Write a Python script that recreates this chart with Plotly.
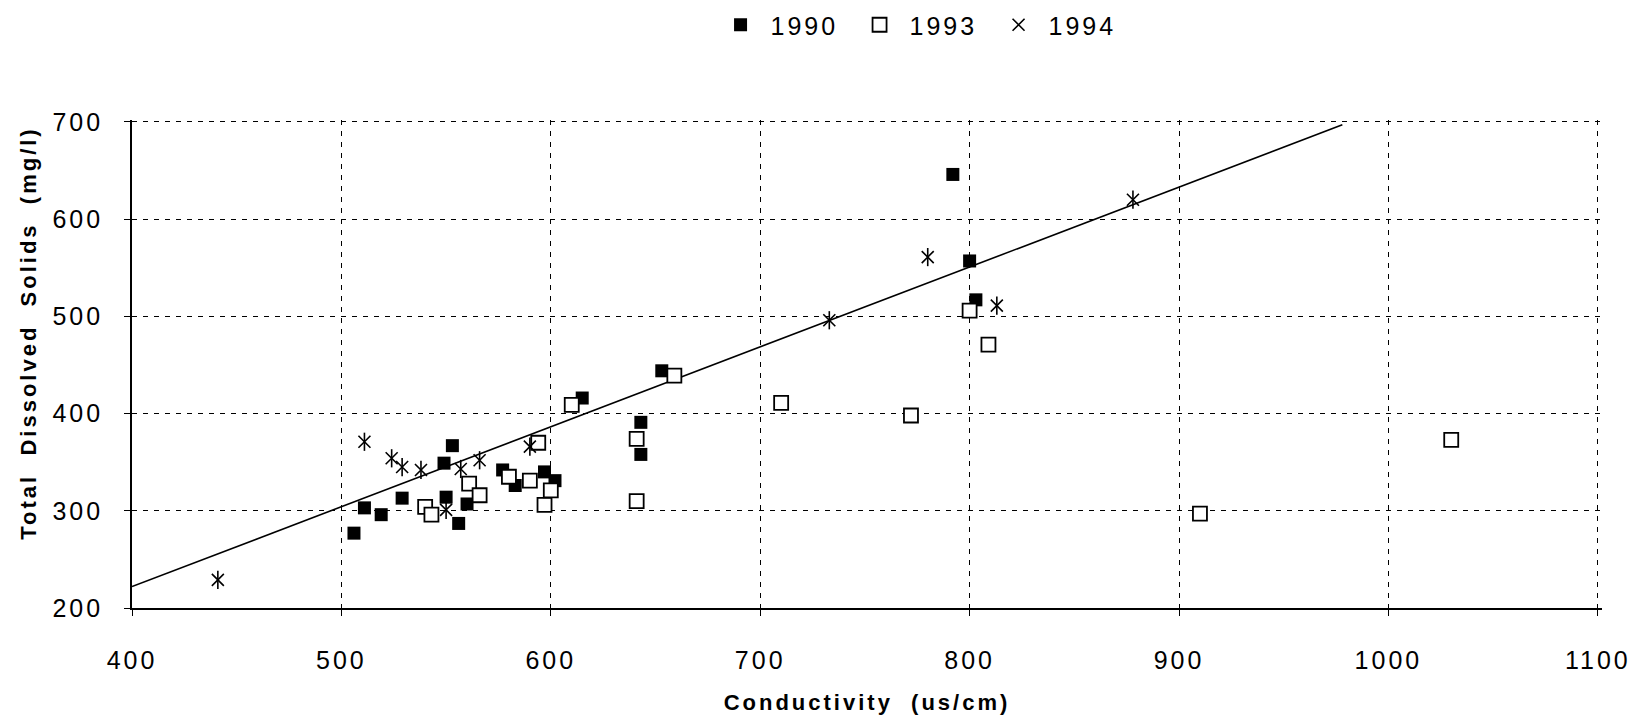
import plotly.graph_objects as go

# ---- data ----
Y1990_X = [506, 511, 519, 529, 549, 550, 553, 556, 560, 577, 583, 597, 602, 615, 643, 643, 653, 792, 800, 803]
Y1990_Y = [277, 303, 296, 313, 349, 314, 367, 287, 307, 342, 326, 340, 331, 416, 391, 358, 444, 646, 557, 517]

Y1993_X = [540, 543, 561, 566, 580, 590, 594, 597, 600, 610, 641, 641, 659, 710, 772, 800, 809, 910, 1030]
Y1993_Y = [304, 296, 328, 316, 335, 331, 370, 306, 321, 409, 374, 310, 439, 411, 398, 506, 471, 297, 373]

Y1994_X = [441, 511, 524, 529, 538, 550, 557, 566, 590, 733, 780, 813, 878]
Y1994_Y = [229, 371, 354, 345, 342, 301, 343, 352, 366, 496, 561, 511, 620]

FIT_SLOPE = 0.822
FIT_INTERCEPT = -106.8
FIT_X_RANGE = [400, 978]

X_TICKS = [400, 500, 600, 700, 800, 900, 1000, 1100]
Y_TICKS = [200, 300, 400, 500, 600, 700]

X_TITLE = "Conductivity  (us/cm)"
Y_TITLE = "Total  Dissolved  Solids  (mg/l)"

FONT = "Liberation Sans, Arial, Helvetica, sans-serif"

fig = go.Figure()

fit_y = [FIT_INTERCEPT + FIT_SLOPE * x for x in FIT_X_RANGE]
fig.add_trace(go.Scatter(x=FIT_X_RANGE, y=fit_y, mode="lines",
                         line=dict(color="black", width=1.6), showlegend=False,
                         hoverinfo="skip"))

fig.add_trace(go.Scatter(x=Y1990_X, y=Y1990_Y, mode="markers", name="1990",
                         marker=dict(symbol="square", size=13, color="black",
                                     line=dict(color="black", width=0))))
fig.add_trace(go.Scatter(x=Y1993_X, y=Y1993_Y, mode="markers", name="1993",
                         marker=dict(symbol="square", size=14, color="white",
                                     line=dict(color="black", width=1.8))))
fig.add_trace(go.Scatter(x=Y1994_X, y=Y1994_Y, mode="markers", name="1994",
                         legendgroup="1994",
                         marker=dict(symbol="x-thin-open", size=12, color="black",
                                     line=dict(color="black", width=1.6))))
fig.add_trace(go.Scatter(x=Y1994_X, y=Y1994_Y, mode="markers", name="1994",
                         legendgroup="1994", showlegend=False,
                         marker=dict(symbol="line-ns-open", size=13, color="black",
                                     line=dict(color="black", width=1.6))))

axis_common = dict(
    showgrid=True, gridcolor="black", gridwidth=1.2, griddash="5px,6px",
    showline=True, linecolor="black", linewidth=1.6,
    ticks="outside", ticklen=6, tickwidth=1.3, tickcolor="black",
    tickfont=dict(family=FONT, size=25, color="black"),
    zeroline=False,
)

fig.update_layout(
    width=1640, height=723,
    margin=dict(l=132, r=38, t=120, b=113),
    paper_bgcolor="white", plot_bgcolor="white",
    font=dict(family=FONT, color="black"),
    xaxis=dict(range=[400, 1102], tickvals=X_TICKS, ticklabelstandoff=23,
               title=dict(text=X_TITLE, font=dict(family=FONT, size=22, weight="bold"),
                          standoff=22),
               **axis_common),
    yaxis=dict(range=[200, 702], tickvals=Y_TICKS, ticklabelstandoff=16,
               **axis_common),
    legend=dict(orientation="h", xref="container", yref="container",
                x=0.5604, xanchor="center", y=1 - 25 / 723, yanchor="middle",
                itemwidth=50, entrywidth=74, entrywidthmode="pixels",
                font=dict(family=FONT, size=25, color="black"),
                bgcolor="rgba(0,0,0,0)"),
    annotations=[dict(text=Y_TITLE, textangle=-90, xref="paper", yref="paper",
                      x=(28 - 132) / 1466, y=(610 - 335) / 488,
                      xanchor="center", yanchor="middle", showarrow=False,
                      font=dict(family=FONT, size=22, color="black", weight="bold"))],
)

# letter-spaced text as in the reference, keeping each label on its anchor
post = """
document.body.style.margin = '0';
var LS = 3;
document.querySelectorAll('svg text').forEach(function(t){
  if(!t.textContent) return;
  var b0 = t.getBBox();
  t.style.letterSpacing = LS + 'px';
  t.style.whiteSpace = 'pre';
  var b1 = t.getBBox();
  var a = t.getAttribute('text-anchor') || window.getComputedStyle(t).textAnchor;
  var d = 0;
  if(a === 'middle') d = (b0.x + b0.width / 2) - (b1.x + b1.width / 2);
  else if(a === 'end') d = (b0.x + b0.width) - (b1.x + b1.width);
  if(Math.abs(d) > 0.01){
    var tr = t.getAttribute('transform') || '';
    t.setAttribute('transform', tr + ' translate(' + d + ',0)');
  }
});
"""
fig.write_html("out.html", post_script=post, config={"displayModeBar": False})
